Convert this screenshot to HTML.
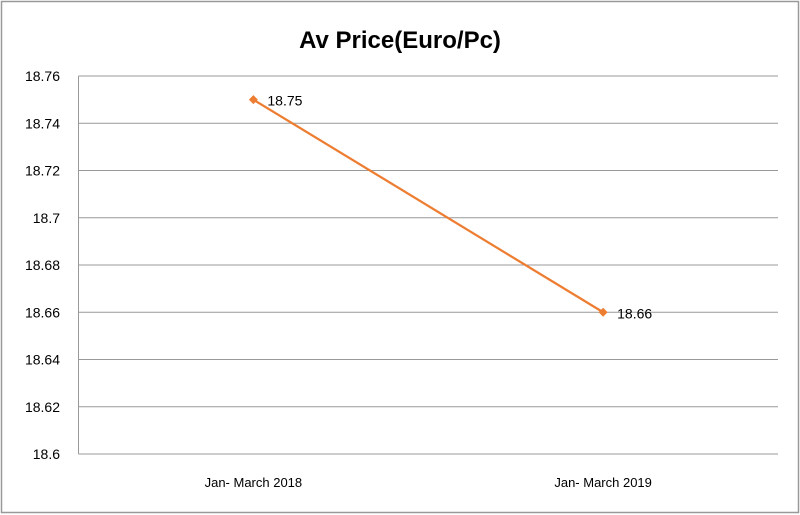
<!DOCTYPE html>
<html><head><meta charset="utf-8"><style>
html,body{margin:0;padding:0;background:#fff;}
svg{display:block;font-family:"Liberation Sans",sans-serif;}
</style></head><body>
<svg id="chart" width="800" height="515">
<rect x="1.5" y="1.5" width="797" height="511" fill="#fff" stroke="#999" stroke-width="1.5"/>
<text x="400" y="48" text-anchor="middle" font-size="24" font-weight="bold" fill="#000">Av Price(Euro/Pc)</text>
<g id="grid"></g><g id="series"></g>
</svg>
<script>
const categories = ["Jan- March 2018", "Jan- March 2019"];
const values = [18.75, 18.66];
const valueLabels = ["18.75", "18.66"];
const yTicks = [18.6, 18.62, 18.64, 18.66, 18.68, 18.7, 18.72, 18.74, 18.76];
const yTickLabels = ["18.6","18.62","18.64","18.66","18.68","18.7","18.72","18.74","18.76"];

const L=78.5,R=778,T=76,B=454,yMin=18.6,yMax=18.76;
const NS="http://www.w3.org/2000/svg";
function y(v){return B-(v-yMin)/(yMax-yMin)*(B-T);}
function x(i){return L+(i+0.5)*(R-L)/categories.length;}
function mk(t,a,p){const e=document.createElementNS(NS,t);for(const k in a)e.setAttribute(k,a[k]);p.appendChild(e);return e;}
const grid=document.getElementById('grid'),ser=document.getElementById('series');
yTicks.forEach((v,i)=>{
  const g=mk('line',{x1:L,x2:R,y1:y(v),y2:y(v),stroke:'#999','stroke-width':1},grid);
  
  
  const t=mk('text',{x:60,y:y(v)+5,'text-anchor':'end','font-size':14,fill:'#000'},grid);
  t.textContent=yTickLabels[i];
  
  
});
const ax=mk('line',{x1:L,x2:L,y1:T,y2:B,stroke:'#999','stroke-width':1},grid);


categories.forEach((c,i)=>{
  const t=mk('text',{x:x(i),y:487,'text-anchor':'middle','font-size':13,fill:'#000'},grid);
  t.textContent=c;
  
  
});
const pts=values.map((v,i)=>x(i)+','+y(v)).join(' ');
const pl=mk('polyline',{points:pts,fill:'none',stroke:'#ed7d31','stroke-width':2.25},ser);


values.forEach((v,i)=>{
  const cx=x(i),cy=y(v);
  const m=mk('polygon',{points:`${cx},${cy-4.5} ${cx+4.5},${cy} ${cx},${cy+4.5} ${cx-4.5},${cy}`,fill:'#ed7d31'},ser);
  
  
  const t=mk('text',{x:cx+14,y:cy+6,'font-size':14,fill:'#000'},ser);
  t.textContent=valueLabels[i];
  
  
});
</script>
</body></html>
